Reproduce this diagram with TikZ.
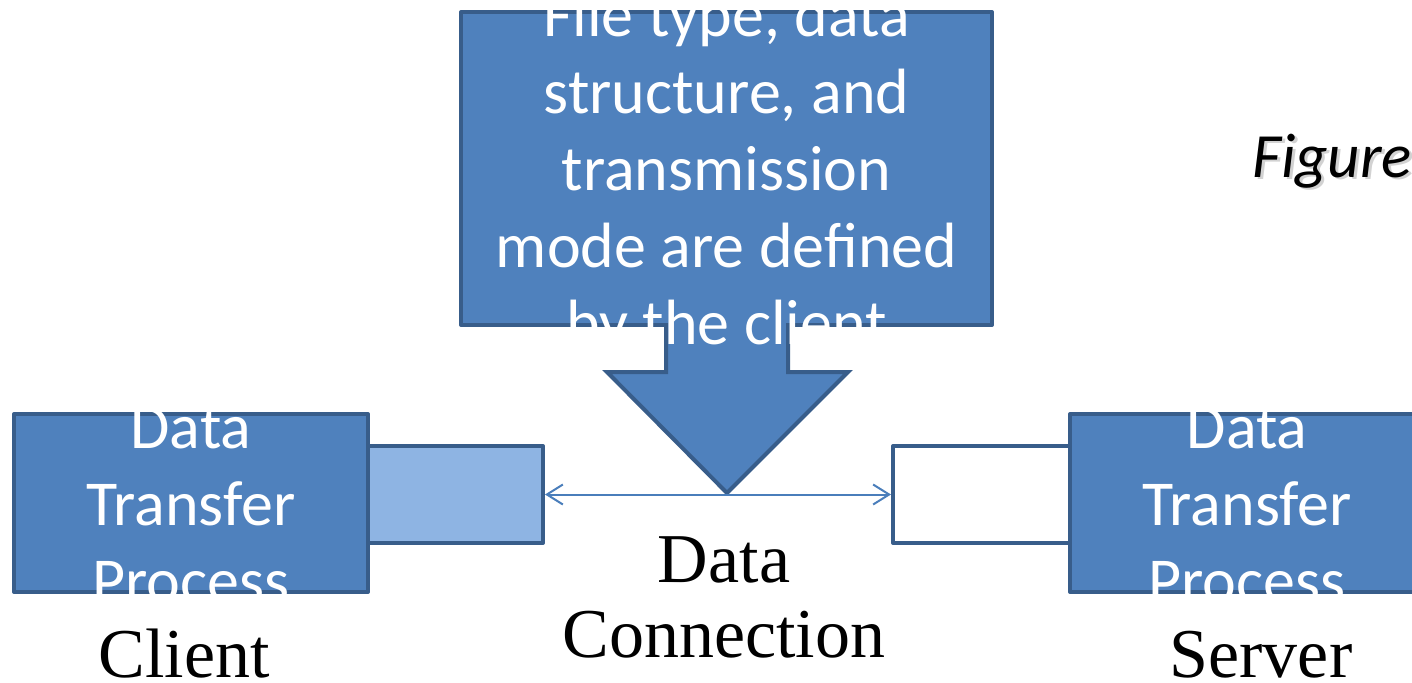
\documentclass[tikz,border=0pt]{standalone}
\usepackage{fontspec}
\setmainfont{Liberation Serif}
\newfontfamily\boxfont{Carlito}
\usetikzlibrary{arrows.meta}
\definecolor{accfill}{HTML}{4F81BD}
\definecolor{accline}{HTML}{385D8A}
\definecolor{lightfill}{HTML}{8EB4E3}
\definecolor{linkcol}{HTML}{4A7EBB}
\newcommand{\bstrut}{\rule[-27pt]{0pt}{77pt}}
\newcommand{\lstrut}{\rule[-25pt]{0pt}{75pt}}
\tikzset{
  procbox/.style={draw=accline, line width=4pt, fill=accfill, line join=round, inner sep=0pt},
  portbox/.style={draw=accline, line width=4pt, line join=round, inner sep=0pt},
  boxtext/.style={font=\boxfont\fontsize{64}{77}\selectfont, text=white, align=center, inner sep=0pt},
  seriflabel/.style={font=\fontsize{70}{75}\selectfont, text=black, align=center, inner sep=0pt},
  figlabel/.style={font=\boxfont\itshape\fontsize{63}{70}\selectfont, inner sep=0pt, anchor=base west},
  link/.style={draw=linkcol, line width=2pt, {Straight Barb[length=16pt,width=20pt]}-{Straight Barb[length=16pt,width=20pt]}}
}
\begin{document}
\begin{tikzpicture}[x=1pt,y=-1pt]
\useasboundingbox (0,0) rectangle (1412,682);
\clip (0,0) rectangle (1412,682);
% top definition box
\node[procbox, minimum width=531pt, minimum height=313pt] (defbox) at (726.5,168.5) {};
% big down arrow
\fill[accfill] (666,322) -- (666,372) -- (607,372) -- (727,493) -- (848,372) -- (788,372) -- (788,322) -- cycle;
\draw[accline, line width=4pt, line join=miter] (666,323) -- (666,372) -- (607,372) -- (727,493) -- (848,372) -- (788,372) -- (788,323);
\node[boxtext] (deftext) at (726.5,178.5) {\bstrut File type, data\\ \bstrut structure, and\\ \bstrut transmission\\ \bstrut mode are defined\\ \bstrut by the client};
% client side
\node[procbox, minimum width=354pt, minimum height=178pt] (cdtp) at (191,503) {};
\node[portbox, fill=lightfill, minimum width=175pt, minimum height=97pt] (cport) at (455.5,494.5) {};
\node[boxtext] (cdtptext) at (191,513.5) {\bstrut Data\\ \bstrut Transfer\\ \bstrut Process};
% server side
\node[procbox, minimum width=354pt, minimum height=178pt] (sdtp) at (1247,503) {};
\node[portbox, fill=white, minimum width=177pt, minimum height=97pt] (sport) at (981.5,494.5) {};
\node[boxtext] (sdtptext) at (1247,513.5) {\bstrut Data\\ \bstrut Transfer\\ \bstrut Process};
% connection
\draw[link] (cport.east) -- (sport.west);
% labels
\node[seriflabel, anchor=base] (clientlbl) at (184,677) {Client};
\node[seriflabel, anchor=base] (serverlbl) at (1261,677) {Server};
\node[seriflabel] (connlbl) at (724,607) {\lstrut Data\\ \lstrut Connection};
% figure caption with shadow
\node[figlabel, text=black!35, opacity=0.5] (figshadow) at (1255,179.5) {Figure};
\node[figlabel, text=black] (figtext) at (1252,177) {Figure};
\end{tikzpicture}
\end{document}
